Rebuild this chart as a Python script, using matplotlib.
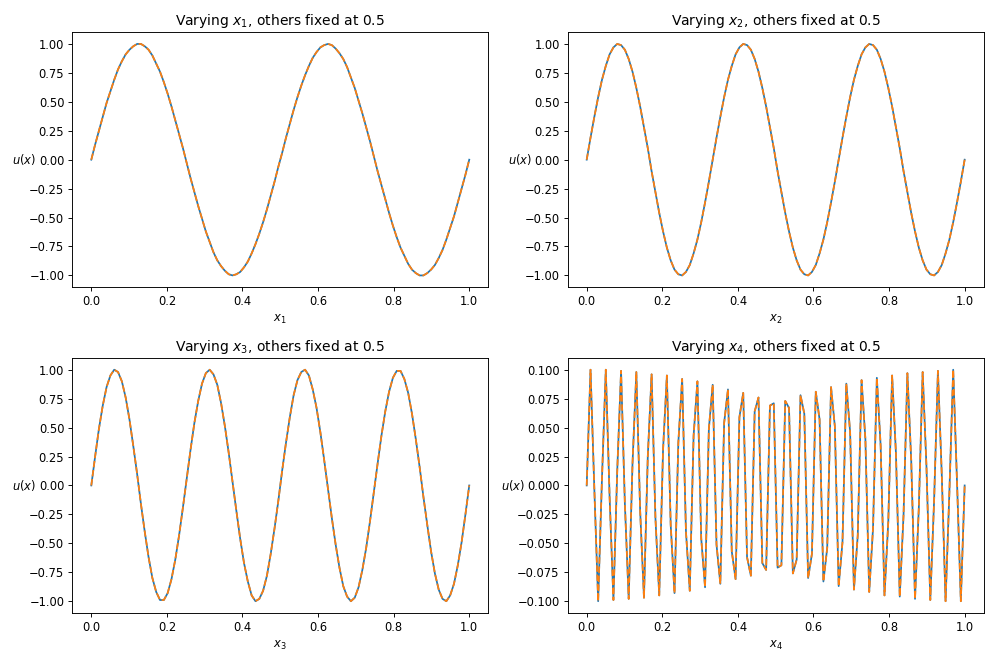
import numpy as np
import matplotlib
matplotlib.use("Agg")
import matplotlib.pyplot as plt

# sample grid (100 evenly spaced points on [0, 1])
x = np.linspace(0, 1, 100)

# values (true curve and prediction coincide)
u_x1 = [0.00, 0.13, 0.25, 0.37, 0.49, 0.59, 0.69, 0.78, 0.85, 0.91,
        0.95, 0.98, 1.00, 1.00, 0.98, 0.95, 0.90, 0.83, 0.76, 0.67,
        0.57, 0.46, 0.34, 0.22, 0.10, -0.03, -0.16, -0.28, -0.40, -0.51,
        -0.62, -0.71, -0.80, -0.87, -0.92, -0.96, -0.99, -1.00, -0.99, -0.97,
        -0.93, -0.88, -0.81, -0.73, -0.64, -0.54, -0.43, -0.31, -0.19, -0.06,
        0.06, 0.19, 0.31, 0.43, 0.54, 0.64, 0.73, 0.81, 0.88, 0.93,
        0.97, 0.99, 1.00, 0.99, 0.96, 0.92, 0.87, 0.80, 0.71, 0.62,
        0.51, 0.40, 0.28, 0.16, 0.03, -0.10, -0.22, -0.34, -0.46, -0.57,
        -0.67, -0.76, -0.83, -0.90, -0.95, -0.98, -1.00, -1.00, -0.98, -0.95,
        -0.91, -0.85, -0.78, -0.69, -0.59, -0.49, -0.37, -0.25, -0.13, 0.00]

u_x2 = [0.00, 0.19, 0.37, 0.54, 0.69, 0.81, 0.91, 0.97, 1.00, 0.99,
        0.95, 0.87, 0.76, 0.62, 0.46, 0.28, 0.10, -0.10, -0.28, -0.46,
        -0.62, -0.76, -0.87, -0.95, -0.99, -1.00, -0.97, -0.91, -0.81, -0.69,
        -0.54, -0.37, -0.19,
        0.00, 0.19, 0.37, 0.54, 0.69, 0.81, 0.91, 0.97, 1.00, 0.99,
        0.95, 0.87, 0.76, 0.62, 0.46, 0.28, 0.10, -0.10, -0.28, -0.46,
        -0.62, -0.76, -0.87, -0.95, -0.99, -1.00, -0.97, -0.91, -0.81, -0.69,
        -0.54, -0.37, -0.19,
        0.00, 0.19, 0.37, 0.54, 0.69, 0.81, 0.91, 0.97, 1.00, 0.99,
        0.95, 0.87, 0.76, 0.62, 0.46, 0.28, 0.10, -0.10, -0.28, -0.46,
        -0.62, -0.76, -0.87, -0.95, -0.99, -1.00, -0.97, -0.91, -0.81, -0.69,
        -0.54, -0.37, -0.19, 0.00]

u_x3 = [0.00, 0.25, 0.49, 0.69, 0.85, 0.95, 1.00, 0.98, 0.90, 0.76,
        0.57, 0.34, 0.10, -0.16, -0.40, -0.62, -0.80, -0.92, -0.99, -0.99,
        -0.93, -0.81, -0.64, -0.43, -0.19,
        0.06, 0.31, 0.54, 0.73, 0.88, 0.97, 1.00, 0.96, 0.87, 0.71,
        0.51, 0.28, 0.03, -0.22, -0.46, -0.67, -0.83, -0.95, -1.00, -0.98,
        -0.91, -0.78, -0.59, -0.37, -0.13,
        0.13, 0.37, 0.59, 0.78, 0.91, 0.98, 1.00, 0.95, 0.83, 0.67,
        0.46, 0.22, -0.03, -0.28, -0.51, -0.71, -0.87, -0.96, -1.00, -0.97,
        -0.88, -0.73, -0.54, -0.31, -0.06,
        0.19, 0.43, 0.64, 0.81, 0.93, 0.99, 0.99, 0.92, 0.80, 0.62,
        0.40, 0.16, -0.10, -0.34, -0.57, -0.76, -0.90, -0.98, -1.00, -0.95,
        -0.85, -0.69, -0.49, -0.25, 0.00]

u_x4 = [0.000, 0.100, -0.003, -0.100, 0.006, 0.100, -0.010, -0.099, 0.013, 0.099,
        -0.016, -0.098, 0.019, 0.098, -0.022, -0.097, 0.025, 0.096, -0.028, -0.095,
        0.031, 0.095, -0.034, -0.093, 0.037, 0.092, -0.040, -0.091, 0.043, 0.090,
        -0.046, -0.088, 0.049, 0.087, -0.051, -0.085, 0.054, 0.083, -0.057, -0.081,
        0.059, 0.080, -0.062, -0.078, 0.064, 0.076, -0.067, -0.073, 0.069, 0.071,
        -0.071, -0.069, 0.073, 0.067, -0.076, -0.064, 0.078, 0.062, -0.080, -0.059,
        0.081, 0.057, -0.083, -0.054, 0.085, 0.051, -0.087, -0.049, 0.088, 0.046,
        -0.090, -0.043, 0.091, 0.040, -0.092, -0.037, 0.093, 0.034, -0.095, -0.031,
        0.095, 0.028, -0.096, -0.025, 0.097, 0.022, -0.098, -0.019, 0.098, 0.016,
        -0.099, -0.013, 0.099, 0.010, -0.100, -0.006, 0.100, 0.003, -0.100, 0.000]

series = [u_x1, u_x2, u_x3, u_x4]
var_names = ["x_1", "x_2", "x_3", "x_4"]

fig, axes = plt.subplots(2, 2, figsize=(12, 8), dpi=83)

for ax, u, name in zip(axes.flat, series, var_names):
    ax.plot(x, u, color="C0")                 # true
    ax.plot(x, u, color="C1", linestyle="--")  # predicted
    ax.set_title(f"Varying ${name}$, others fixed at 0.5")
    ax.set_xlabel(f"${name}$")
    ax.set_ylabel("$u(x)$", rotation=0, va="center")

plt.tight_layout()
plt.savefig("out.png", dpi=83)
